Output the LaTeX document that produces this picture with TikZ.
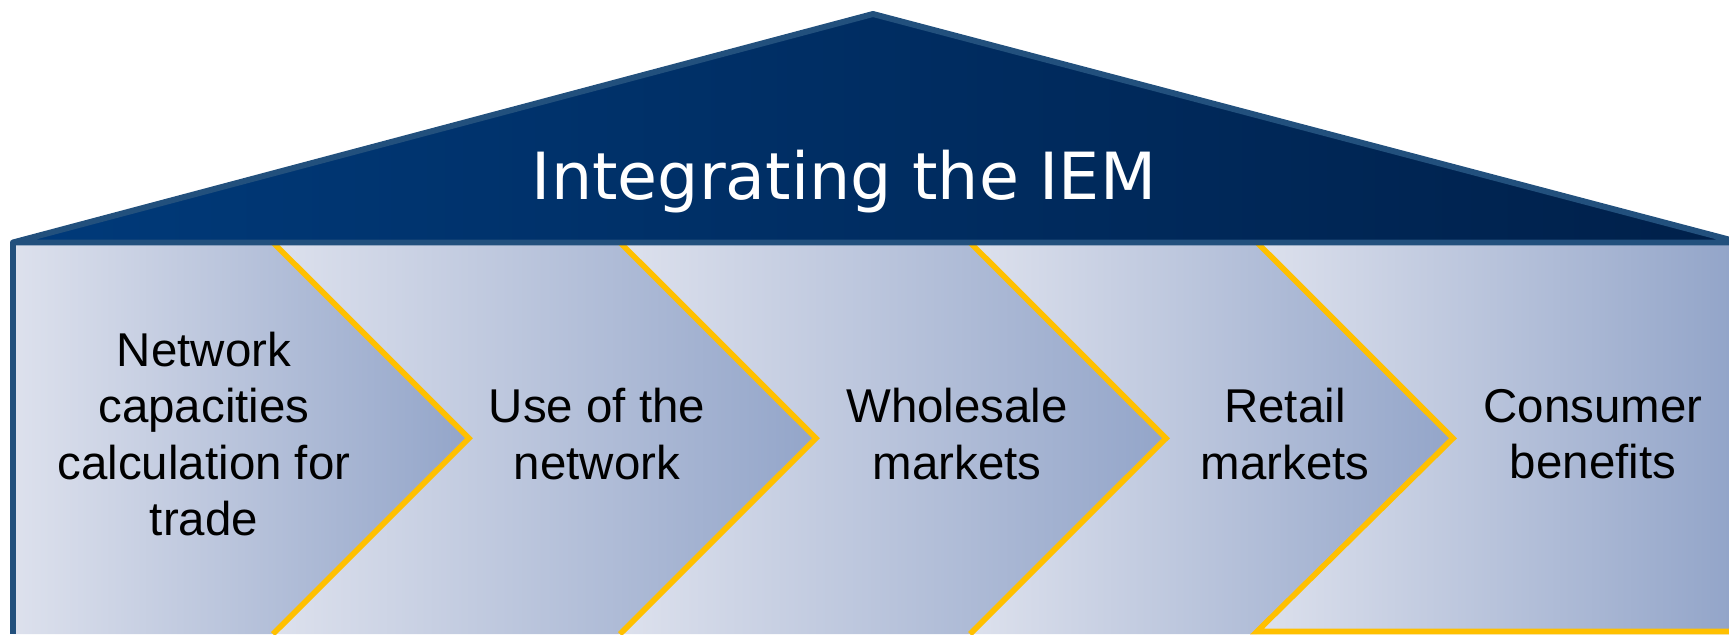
\documentclass[tikz,border=0pt]{standalone}
\usepackage{fontspec}
\setmainfont{Liberation Sans}
\newfontfamily\titlefont{DejaVu Sans}
\usepackage{xcolor}
\usepackage{tikz}
\definecolor{roofL}{HTML}{003A7A}
\definecolor{roofR}{HTML}{00204A}
\definecolor{rim}{HTML}{22507D}
\definecolor{paneL}{HTML}{DDE1ED}
\definecolor{paneR}{HTML}{93A5C9}
\definecolor{gold}{HTML}{FFC000}
\tikzset{
	pane/.style={left color=paneL,right color=paneR,draw=none},
	rimline/.style={draw=rim,line width=1.7pt,line join=round},
	goldline/.style={draw=gold,line width=1.6pt},
	lbl/.style={align=center,font=\fontsize{13.5}{16.1}\selectfont,text=black}
}
\begin{document}
\begin{tikzpicture}
		\useasboundingbox (0,0) rectangle (17.29,6.34);
		% panels
		\path[pane] (0.13,0) -- (0.13,3.915) -- (2.73,3.915) -- (4.69,1.9575) -- (2.73,0) -- cycle;
		\path[pane] (2.73,3.915) -- (6.20,3.915) -- (8.16,1.9575) -- (6.20,0) -- (2.73,0) -- (4.69,1.9575) -- cycle;
		\path[pane] (6.20,3.915) -- (9.70,3.915) -- (11.66,1.9575) -- (9.70,0) -- (6.20,0) -- (8.16,1.9575) -- cycle;
		\path[pane] (9.70,3.915) -- (12.57,3.915) -- (14.53,1.9575) -- (12.57,0) -- (9.70,0) -- (11.66,1.9575) -- cycle;
		\path[pane] (12.57,3.915) -- (17.29,3.915) -- (17.29,0) -- (12.57,0) -- (14.53,1.9575) -- cycle;
		%
		\draw[goldline] (2.73,3.915) -- (4.69,1.9575) -- (2.73,0);
		\draw[goldline] (6.20,3.915) -- (8.16,1.9575) -- (6.20,0);
		\draw[goldline] (9.70,3.915) -- (11.66,1.9575) -- (9.70,0);
		\draw[goldline] (12.57,3.915) -- (14.53,1.9575) -- (12.57,0.025) -- (17.29,0.025);
		% roof
		\path[left color=roofL,right color=roofR,rimline] (0.13,3.915) -- (8.73,6.20) -- (17.40,3.915) -- cycle;
		\draw[rimline] (0.13,3.915) -- (0.13,0);
		%
		\node (T) at (8.44,4.525) {\titlefont\fontsize{18.5}{22}\selectfont\color{white}Integrating the IEM};
		\node[lbl] (P1) at (2.04,2.0) {Network\\capacities\\calculation for\\trade};
		\node[lbl] (P2) at (5.97,2.0) {Use of the\\network};
		\node[lbl] (P3) at (9.57,2.0) {Wholesale\\markets};
		\node[lbl] (P4) at (12.85,2.0) {Retail\\markets};
		\node[lbl] (P5) at (15.93,2.0) {Consumer\\benefits};
\end{tikzpicture}
\end{document}
